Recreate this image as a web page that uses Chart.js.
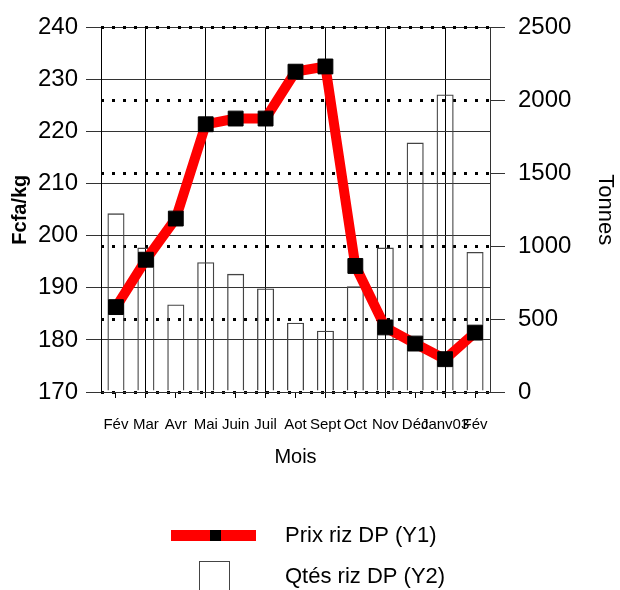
<!DOCTYPE html>
<html>
<head>
<meta charset="utf-8">
<script src="https://cdn.jsdelivr.net/npm/chart.js@4.4.1/dist/chart.umd.min.js"></script>
<style>
  html, body { margin: 0; padding: 0; background: #fff; }
  #wrap { width: 620px; height: 590px; position: relative; }
</style>
</head>
<body>
<div id="wrap"><canvas id="c"></canvas></div>
<script>
const months = ['Fév', 'Mar', 'Avr', 'Mai', 'Juin', 'Juil', 'Aot', 'Sept', 'Oct', 'Nov', 'Déc', 'Janv03', 'Fév'];
const prixRiz = [186.3, 195.4, 203.3, 221.4, 222.5, 222.5, 231.5, 232.5, 194.2, 182.4, 179.3, 176.3, 181.4];
const qtesRiz = [1225, 990, 600, 890, 810, 710, 475, 420, 725, 990, 1710, 2040, 960];
const prixLabel = 'Prix riz DP (Y1)';
const qtesLabel = 'Qtés riz DP (Y2)';

const FONT = "'Liberation Sans', Arial, sans-serif";

// legend drawn by hand below the axes, plus the right frame line
const legendPlugin = {
    id: 'handLegend',
    afterDraw(chart) {
        const ctx = chart.ctx;
        const a = chart.chartArea;
        ctx.save();
        ctx.strokeStyle = '#333';
        ctx.lineWidth = 1;
        ctx.beginPath();
        ctx.moveTo(Math.round(a.right) + 0.5, a.top);
        ctx.lineTo(Math.round(a.right) + 0.5, a.bottom);
        ctx.stroke();

        ctx.strokeStyle = '#ff0000';
        ctx.lineWidth = 11;
        ctx.beginPath();
        ctx.moveTo(171, 535.5);
        ctx.lineTo(256, 535.5);
        ctx.stroke();
        ctx.fillStyle = '#000';
        ctx.fillRect(210, 530, 11, 11);

        ctx.strokeStyle = '#444';
        ctx.lineWidth = 1;
        ctx.strokeRect(199.5, 561.5, 30, 40);

        ctx.fillStyle = '#000';
        ctx.font = '22px ' + FONT;
        ctx.textBaseline = 'middle';
        ctx.textAlign = 'left';
        ctx.fillText(prixLabel, 285, 536);
        ctx.fillText(qtesLabel, 285, 577);
        ctx.restore();
    }
};

new Chart(document.getElementById('c'), {
    data: {
        labels: months,
        datasets: [{
            type: 'line',
            label: prixLabel,
            data: prixRiz,
            yAxisID: 'y',
            order: 0,
            borderColor: '#ff0000',
            borderWidth: 10,
            tension: 0,
            pointStyle: 'rect',
            pointRadius: 10.5,
            pointBackgroundColor: '#000',
            pointBorderColor: '#000',
            pointBorderWidth: 1
        }, {
            type: 'bar',
            label: qtesLabel,
            data: qtesRiz,
            yAxisID: 'y2',
            order: 1,
            backgroundColor: 'rgba(255,255,255,0)',
            borderColor: '#444',
            borderWidth: 1.3,
            categoryPercentage: 1,
            barPercentage: 0.57
        }]
    },
    options: {
        responsive: true,
        maintainAspectRatio: false,
        animation: false,
        layout: { padding: { left: 0, right: 0, top: 25, bottom: 108 } },
        plugins: {
            legend: { display: false },
            tooltip: { enabled: false }
        },
        scales: {
            x: {
                offset: true,
                grid: {
                    offset: false,
                    color: c => (c.index % 2 === 1 ? '#000' : 'rgba(0,0,0,0)'),
                    tickColor: '#000',
                    tickLength: 6,
                    lineWidth: 1
                },
                border: { display: true, color: '#333' },
                ticks: {
                    autoSkip: false,
                    maxRotation: 0,
                    minRotation: 0,
                    padding: 18,
                    color: '#000',
                    font: { family: FONT, size: 15 }
                },
                title: {
                    display: true,
                    text: 'Mois',
                    color: '#000',
                    font: { family: FONT, size: 20 },
                    padding: { top: 4, bottom: 13 }
                },
                afterFit(scale) { scale.height = 90; }
            },
            y: {
                position: 'left',
                min: 170,
                max: 240,
                ticks: {
                    stepSize: 10,
                    padding: 8,
                    color: '#000',
                    font: { family: FONT, size: 24 }
                },
                grid: {
                    color: '#333',
                    lineWidth: 1,
                    tickLength: 15,
                    tickColor: '#333'
                },
                border: { display: true, color: '#000' },
                title: {
                    display: true,
                    text: 'Fcfa/kg',
                    color: '#000',
                    font: { family: FONT, size: 20, weight: 'bold' },
                    padding: { top: 8, bottom: 0 }
                },
                afterFit(scale) { scale.width = 101; }
            },
            y2: {
                position: 'right',
                min: 0,
                max: 2500,
                ticks: {
                    stepSize: 500,
                    padding: 13,
                    color: '#000',
                    font: { family: FONT, size: 24 },
                    callback: v => String(v)
                },
                grid: {
                    drawOnChartArea: true,
                    color: '#000',
                    lineWidth: 3,
                    tickLength: 15,
                    tickColor: '#333',
                    tickWidth: 1,
                    tickBorderDash: []
                },
                border: { display: false, dash: [3, 8] },
                title: {
                    display: true,
                    text: 'Tonnes',
                    color: '#000',
                    font: { family: FONT, size: 22 },
                    padding: { top: 2, bottom: 0 }
                },
                afterFit(scale) { scale.width = 130; }
            }
        }
    },
    plugins: [legendPlugin]
});
</script>
</body>
</html>
